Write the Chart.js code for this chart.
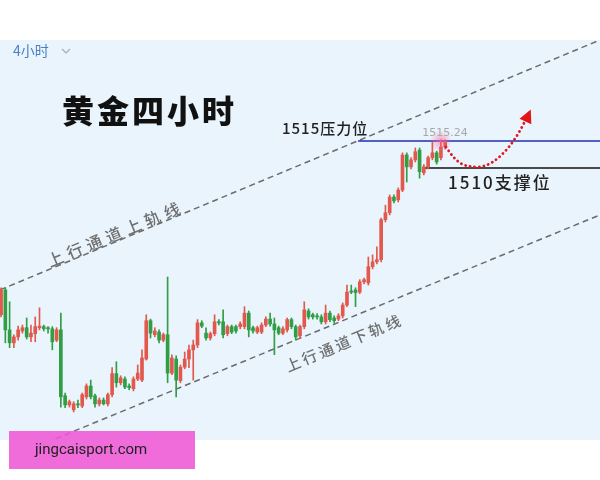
<!DOCTYPE html>
<html lang="zh">
<head>
<meta charset="UTF-8">
<title>黄金四小时</title>
<script src="https://cdn.jsdelivr.net/npm/chart.js"></script>
<style>
  html, body { margin: 0; padding: 0; background: #fff; }
  canvas { display: block; }
</style>
</head>
<body>
<canvas id="myChart" width="600" height="480"></canvas>
<script>
// 4小时K线 (开, 高, 低, 收)
const opens = [1482.8,1487.4,1480.0,1477.6,1478.7,1479.8,1480.4,1478.7,1479.3,1480.4,
  1480.6,1480.4,1480.2,1478.1,1480.0,1467.8,1466.1,1465.2,1466.3,1465.9,
  1467.6,1469.6,1467.8,1466.3,1467.0,1466.3,1468.0,1471.9,1470.2,1470.9,
  1469.6,1469.1,1470.9,1470.7,1474.6,1481.7,1479.1,1479.6,1478.1,1479.1,
  1472.0,1474.6,1470.6,1473.1,1474.6,1476.3,1477.2,1481.3,1479.4,1478.5,
  1479.3,1481.5,1481.5,1479.3,1480.6,1480.6,1480.6,1480.6,1483.1,1480.4,
  1479.6,1479.6,1480.9,1482.0,1481.1,1480.4,1479.4,1480.0,1481.9,1480.6,
  1478.9,1480.6,1483.5,1482.8,1482.6,1482.4,1481.5,1483.1,1482.2,1482.0,
  1482.6,1484.6,1487.2,1487.4,1487.0,1488.9,1488.7,1491.7,1492.6,1493.0,
  1500.4,1501.7,1504.6,1504.1,1505.9,1512.4,1510.2,1511.5,1513.3,1509.1,
  1510.2,1511.9,1512.8,1511.9,1513.9];
const highs = [1487.8,1487.8,1485.2,1479.1,1480.7,1480.9,1482.2,1480.9,1482.4,1484.1,
  1480.9,1480.6,1480.6,1480.4,1483.1,1468.3,1467.0,1466.7,1467.0,1468.3,
  1470.0,1470.7,1468.1,1467.4,1467.4,1468.3,1473.0,1474.1,1471.5,1471.3,
  1470.0,1471.3,1473.5,1476.3,1482.8,1482.0,1480.4,1480.0,1479.4,1489.8,
  1475.4,1475.2,1473.5,1475.9,1477.2,1478.1,1481.9,1481.7,1480.4,1479.6,
  1482.8,1481.9,1483.7,1480.9,1480.9,1480.9,1481.5,1484.3,1483.5,1480.7,
  1480.7,1481.3,1482.4,1483.1,1482.2,1480.7,1480.6,1482.2,1482.2,1480.9,
  1480.9,1485.2,1483.9,1483.1,1483.0,1482.8,1484.6,1483.5,1482.6,1483.0,
  1485.0,1488.3,1488.3,1487.8,1489.3,1489.6,1493.5,1493.9,1495.4,1500.7,
  1503.1,1505.0,1505.0,1506.3,1512.8,1512.8,1511.9,1513.7,1513.7,1510.6,
  1512.2,1514.8,1513.1,1515.2,1515.2];
const lows = [1482.4,1477.6,1476.7,1476.7,1478.1,1479.4,1478.3,1477.8,1477.8,1480.0,
  1479.8,1479.4,1476.3,1477.8,1465.7,1465.6,1465.7,1464.8,1465.6,1465.6,
  1467.2,1467.2,1465.7,1465.9,1466.1,1465.9,1467.6,1469.4,1469.8,1469.1,
  1468.9,1468.7,1470.6,1470.4,1474.4,1478.5,1478.7,1477.6,1477.8,1470.2,
  1471.7,1467.6,1470.2,1472.8,1473.0,1470.7,1476.7,1480.4,1478.1,1478.1,
  1478.9,1480.9,1478.5,1478.9,1479.3,1479.4,1480.2,1480.2,1478.7,1479.4,
  1479.3,1479.3,1480.6,1480.7,1475.4,1479.1,1479.1,1479.6,1480.2,1478.1,
  1478.5,1480.2,1482.0,1482.0,1482.0,1481.1,1481.1,1481.5,1481.3,1481.7,
  1482.2,1484.3,1486.7,1484.3,1486.7,1488.5,1488.3,1491.3,1492.2,1492.6,
  1500.0,1501.3,1503.5,1503.7,1505.6,1507.4,1509.8,1511.1,1508.1,1508.7,
  1509.8,1511.5,1510.7,1511.5,1513.5];
const closes = [1487.4,1480.0,1477.6,1478.7,1480.0,1480.4,1478.7,1479.4,1480.6,1480.7,
  1480.2,1480.2,1477.8,1480.0,1467.6,1466.1,1466.7,1466.3,1466.1,1468.0,
  1469.6,1467.6,1466.3,1467.0,1466.3,1468.0,1471.9,1470.2,1471.1,1469.4,
  1469.3,1470.9,1472.0,1474.8,1481.7,1479.4,1479.8,1478.1,1479.1,1472.0,
  1474.8,1470.7,1473.1,1474.6,1476.3,1477.2,1481.3,1480.7,1478.5,1479.3,
  1481.5,1481.3,1479.1,1480.6,1479.6,1479.8,1481.1,1483.1,1480.0,1479.8,
  1480.4,1480.9,1482.0,1481.1,1480.0,1479.4,1480.2,1481.9,1480.6,1478.7,
  1480.6,1483.7,1482.4,1482.4,1482.4,1481.5,1483.1,1481.9,1481.7,1482.6,
  1484.6,1487.0,1487.0,1486.9,1488.9,1489.3,1491.7,1492.6,1493.0,1500.4,
  1501.7,1504.6,1503.9,1505.9,1512.4,1510.2,1511.5,1513.0,1509.3,1510.2,
  1511.9,1512.8,1511.1,1513.9,1514.8];

// 通道线 [K线序号, 价格]
const upperChannel = [[-0.25, 1487.4], [140.25, 1533.7]];
const lowerChannel = [[-0.25, 1455.6], [140.25, 1501.3]];
const resistance = 1515, resistanceFrom = 83.6;
const support = 1510, supportFrom = 98.8;
const highLabel = '1515.24';

const UP = '#e2584c', DOWN = '#2f9e44';
const colorOf = opens.map((o, i) => closes[i] >= o ? UP : DOWN);
const toXY = (arr) => arr.map(p => ({ x: p[0], y: p[1] }));

const bgPlugin = {
  id: 'bg',
  beforeDraw(chart) {
    const { ctx, chartArea } = chart;
    ctx.save();
    ctx.fillStyle = '#ffffff';
    ctx.fillRect(0, 0, chart.width, chart.height);
    ctx.fillStyle = '#e9f4fc';
    ctx.fillRect(0, chartArea.top, chart.width, chartArea.bottom - chartArea.top);
    ctx.restore();
  }
};

const notePlugin = {
  id: 'notes',
  afterDraw(chart) {
    const { ctx } = chart;
    const xs = chart.scales.x, ys = chart.scales.y;
    const px = (v) => xs.getPixelForValue(v);
    const py = (v) => ys.getPixelForValue(v);
    ctx.save();

    // 4小时 选择
    ctx.fillStyle = '#4a7fc4';
    ctx.font = '14px "Noto Sans CJK SC"';
    ctx.textBaseline = 'middle';
    ctx.fillText('4小时', 13, 51);
    ctx.strokeStyle = '#9ab0c8';
    ctx.lineWidth = 1.2;
    ctx.beginPath();
    ctx.moveTo(62, 49); ctx.lineTo(66, 53); ctx.lineTo(70, 49);
    ctx.stroke();

    // 标题
    ctx.fillStyle = '#111';
    ctx.font = '900 32px "Noto Sans CJK SC"';
    ctx.letterSpacing = '3px';
    ctx.fillText('黄金四小时', 62, 111);

    // 高点光晕
    const hx = px(opens.length - 2), hy = py(resistance);
    const g = ctx.createRadialGradient(hx, hy, 0, hx, hy, 11);
    g.addColorStop(0, 'rgba(255,90,150,0.55)');
    g.addColorStop(1, 'rgba(255,90,150,0)');
    ctx.fillStyle = g;
    ctx.beginPath(); ctx.arc(hx, hy, 11, 0, Math.PI * 2); ctx.fill();

    ctx.letterSpacing = '0px';
    ctx.fillStyle = '#a8a8a8';
    ctx.font = '11px "DejaVu Sans"';
    ctx.textAlign = 'center';
    ctx.fillText(highLabel, hx + 4, hy - 8);
    ctx.textAlign = 'left';

    // 压力位 / 支撑位
    ctx.fillStyle = '#222';
    ctx.font = '500 15px "Noto Sans CJK SC"';
    ctx.letterSpacing = '1px';
    ctx.fillText('1515压力位', 282, py(resistance) - 13);
    ctx.font = '500 17px "Noto Sans CJK SC"';
    ctx.letterSpacing = '2px';
    ctx.fillText('1510支撑位', 448, py(support) + 15);

    // 通道文字
    ctx.fillStyle = '#6f6f6f';
    const ang = Math.atan2(py(upperChannel[1][1]) - py(upperChannel[0][1]), px(upperChannel[1][0]) - px(upperChannel[0][0]));
    ctx.font = '500 16px "Noto Sans CJK SC"';
    ctx.letterSpacing = '5px';
    ctx.save();
    ctx.translate(48, 262); ctx.rotate(ang);
    ctx.fillText('上行通道上轨线', 0, 0);
    ctx.restore();
    ctx.font = '500 15px "Noto Sans CJK SC"';
    ctx.letterSpacing = '3px';
    ctx.save();
    ctx.translate(286, 367); ctx.rotate(ang);
    ctx.fillText('上行通道下轨线', 0, 0);
    ctx.restore();

    // 预期走势 虚线箭头
    const x0 = hx + 5, y0 = py(1513.9);
    const xb = px(111.7), yb = py(1510.2);
    const x1 = px(122.8), y1 = py(1518.9);
    ctx.strokeStyle = '#e0161c';
    ctx.lineWidth = 2.8;
    ctx.lineCap = 'round';
    ctx.setLineDash([0.1, 4.5]);
    ctx.beginPath();
    ctx.moveTo(x0, y0);
    ctx.bezierCurveTo(x0 + 12, y0 + 18, xb - 14, yb, xb, yb);
    ctx.bezierCurveTo(xb + 18, yb, x1 - 10, y1 + 22, x1, y1);
    ctx.stroke();
    ctx.setLineDash([]);
    const a = Math.atan2(-22, 10);
    ctx.fillStyle = '#e0161c';
    ctx.save();
    ctx.translate(x1 + 2, y1 - 3); ctx.rotate(a);
    ctx.beginPath();
    ctx.moveTo(8, 0); ctx.lineTo(-5, -6.5); ctx.lineTo(-5, 6.5); ctx.closePath();
    ctx.fill();
    ctx.restore();

    // 水印
    ctx.fillStyle = 'rgba(238,88,214,0.88)';
    ctx.fillRect(9, 431, 186, 38);
    ctx.fillStyle = '#1e1e1e';
    ctx.font = '15px Roboto';
    ctx.letterSpacing = '0px';
    ctx.fillText('jingcaisport.com', 35, 450);
    ctx.restore();
  }
};

const ctx = document.getElementById('myChart');
new Chart(ctx, {
  type: 'bar',
  data: {
    datasets: [
      {
        label: 'wick', order: 2, grouped: false, barThickness: 1,
        data: lows.map((l, i) => ({ x: i, y: [l, highs[i]] })),
        backgroundColor: colorOf
      },
      {
        label: 'body', order: 1, grouped: false, barThickness: 3, minBarLength: 1,
        data: opens.map((o, i) => ({ x: i, y: [o, closes[i]] })),
        backgroundColor: colorOf
      },
      {
        type: 'line', label: 'upper', order: 5, data: toXY(upperChannel),
        borderColor: '#6b6b6b', borderWidth: 1.5, borderDash: [6, 4], pointRadius: 0
      },
      {
        type: 'line', label: 'lower', order: 5, data: toXY(lowerChannel),
        borderColor: '#6b6b6b', borderWidth: 1.5, borderDash: [6, 4], pointRadius: 0
      },
      {
        type: 'line', label: '压力', order: 4,
        data: [{ x: resistanceFrom, y: resistance }, { x: 140.25, y: resistance }],
        borderColor: '#1f2fb5', borderWidth: 1.5, pointRadius: 0
      },
      {
        type: 'line', label: '支撑', order: 4,
        data: [{ x: supportFrom, y: support }, { x: 140.25, y: support }],
        borderColor: '#111', borderWidth: 1.5, pointRadius: 0
      }
    ]
  },
  options: {
    responsive: false,
    animation: false,
    layout: { padding: { top: 40, bottom: 40, left: 0, right: 0 } },
    scales: {
      x: { type: 'linear', min: -0.25, max: 140.25, offset: false, display: false },
      y: { min: 1459.6, max: 1533.7, display: false }
    },
    plugins: { legend: { display: false }, tooltip: { enabled: false } }
  },
  plugins: [bgPlugin, notePlugin]
});
</script>
</body>
</html>
